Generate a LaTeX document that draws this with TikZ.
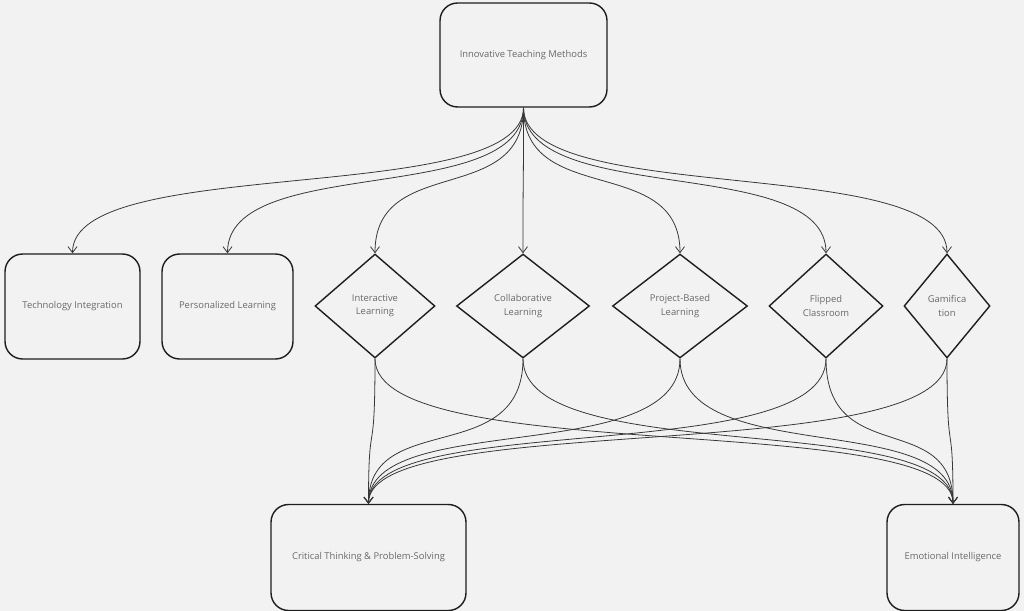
\documentclass[tikz,border=0pt]{standalone}
\usepackage{fontspec}
\setmainfont{Open Sans}
\usetikzlibrary{arrows.meta,shapes.geometric}
\definecolor{paper}{RGB}{242,242,242}
\definecolor{ink}{RGB}{30,30,30}
\definecolor{wire}{RGB}{55,55,55}
\definecolor{label}{RGB}{105,105,105}
\tikzset{
  >={Straight Barb[length=1.2mm,width=1.8mm]},
  card/.style={draw=ink,line width=0.8pt,rounded corners=10pt,fill=paper,text=label,
    font=\fontsize{5.35}{6.5}\selectfont,align=center,minimum width=#1,minimum height=2.1cm},
  card/.default=2.7cm,
  choice/.style={diamond,draw=ink,line width=0.8pt,fill=paper,text=label,inner sep=0pt,
    font=\fontsize{5.35}{7.5}\selectfont,align=center,minimum width=#1,minimum height=2.08cm},
  flow/.style={->,draw=wire,line width=0.45pt},
}

\begin{document}
\begin{tikzpicture}[x=0.02cm,y=-0.02cm]
  \fill[paper] (0,0) rectangle (1024,611);
  \useasboundingbox (0,0) rectangle (1024,611);

  % root
  \node[card=3.34cm,minimum height=2.08cm] (itm) at (523.5,55) {Innovative Teaching Methods};

  % methods
  \node[card=2.7cm] (tech) at (72.5,306.5) {Technology Integration};
  \node[card=2.62cm] (pers) at (227.5,306.5) {Personalized Learning};
  \foreach \n/\x/\w/\t in {
      inter/375/2.4cm/Interactive\\Learning,
      colla/523/2.66cm/Collaborative\\Learning,
      proj/680/2.7cm/Project-Based\\Learning,
      flip/826/2.28cm/Flipped\\Classroom,
      game/947/1.72cm/Gamifica\\tion}
    \node[choice=\w] (\n) at (\x,306) {\t};

  % outcomes
  \node[card=3.9cm,minimum height=2.12cm] (crit) at (368.5,557.5) {Critical Thinking \& Problem-Solving};
  \node[card=2.64cm,minimum height=2.12cm] (emo) at (953,557.5) {Emotional Intelligence};

  % root to methods
  \foreach \m in {tech,pers,inter,colla,proj,flip,game}
    \draw[flow] (itm.south) .. controls +(0,100) and +(0,-100) .. (\m.north);

  % methods to outcomes
  \foreach \m in {inter,colla,proj,flip,game}{
    \draw[flow] (\m.south) .. controls +(0,110) and +(0,-95) .. (crit.north);
    \draw[flow] (\m.south) .. controls +(0,110) and +(0,-95) .. (emo.north);
  }
\end{tikzpicture}
\end{document}
